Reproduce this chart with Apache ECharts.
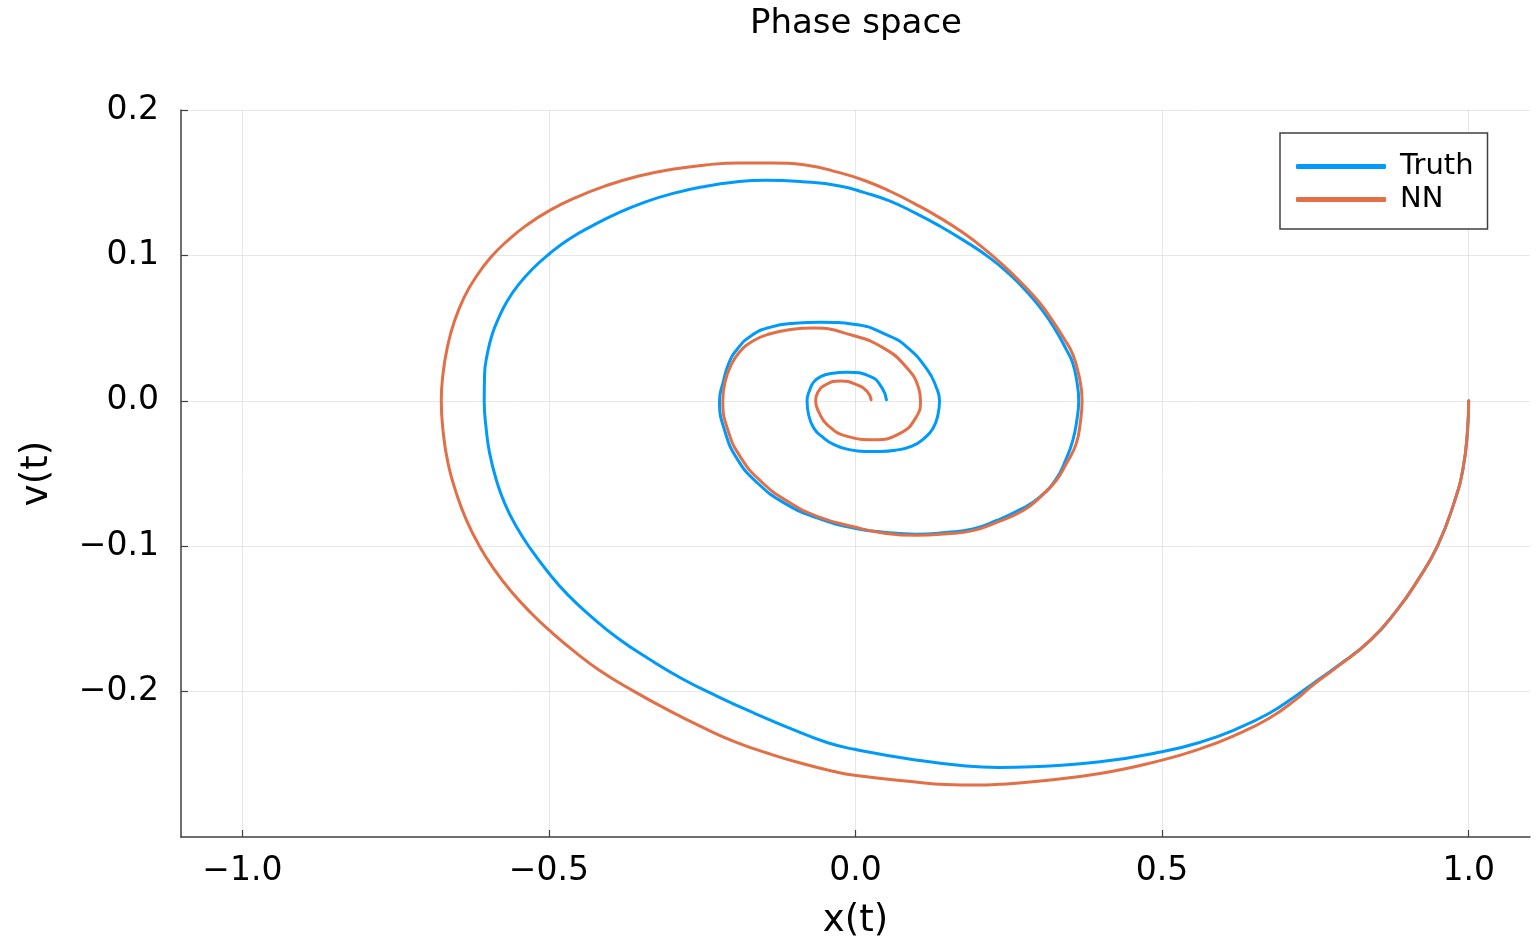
<!DOCTYPE html>
<html>
<head>
<meta charset="utf-8">
<title>Phase space</title>
<script src="https://cdn.jsdelivr.net/npm/echarts@6/dist/echarts.min.js"></script>
<style>
  html, body { margin: 0; padding: 0; background: #ffffff; }
  #chart { width: 1537px; height: 941px; }
</style>
</head>
<body>
<div id="chart"></div>
<script>
// Phase-space trajectories: position x(t) against velocity v(t)
const truthPath = [
  [1.000, 0.000], [0.998, -0.021], [0.991, -0.046], [0.977, -0.069],
  [0.949, -0.100], [0.916, -0.124], [0.883, -0.144], [0.839, -0.165],
  [0.784, -0.183], [0.746, -0.1945], [0.718, -0.203], [0.674, -0.2151],
  [0.619, -0.2261], [0.564, -0.2346], [0.500, -0.2414], [0.3987, -0.2483],
  [0.2885, -0.2517], [0.2335, -0.2522], [0.180, -0.2512], [0.098, -0.247],
  [-0.0018, -0.2397], [-0.0452, -0.2352], [-0.0996, -0.2265], [-0.1648, -0.2149],
  [-0.2245, -0.2034], [-0.2843, -0.1908], [-0.3386, -0.1771], [-0.3875, -0.1633],
  [-0.431, -0.1484], [-0.469, -0.1335], [-0.500, -0.1186], [-0.5288, -0.1025],
  [-0.5532, -0.0865], [-0.5723, -0.0704], [-0.5858, -0.0544], [-0.5967, -0.036],
  [-0.6021, -0.020], [-0.6055, 0.000], [-0.6049, 0.0183], [-0.6005, 0.0321],
  [-0.5924, 0.0458], [-0.5815, 0.0573], [-0.5679, 0.0687], [-0.5489, 0.0802],
  [-0.5272, 0.0905], [-0.500, 0.1008], [-0.4674, 0.1111], [-0.4294, 0.1203],
  [-0.3859, 0.1294], [-0.3424, 0.1368], [-0.299, 0.1425], [-0.2501, 0.1471],
  [-0.1957, 0.1505], [-0.1468, 0.1517], [-0.0871, 0.1507], [-0.026, 0.1478],
  [0.0147, 0.1432], [0.0554, 0.1375], [0.0962, 0.1294], [0.1369, 0.1203],
  [0.1777, 0.110], [0.2184, 0.0985], [0.251, 0.0871], [0.2782, 0.0756],
  [0.3053, 0.0619], [0.3271, 0.0481], [0.3434, 0.0355], [0.3542, 0.026],
  [0.3608, 0.0137], [0.364, 0.000], [0.3608, -0.0137], [0.3542, -0.0275],
  [0.3434, -0.0401], [0.3271, -0.0538], [0.2999, -0.0664], [0.270, -0.0745],
  [0.2293, -0.0825], [0.1913, -0.0882], [0.1478, -0.0905], [0.0989, -0.0917],
  [0.050, -0.0905], [-0.0018, -0.0876], [-0.0615, -0.0807], [-0.1159, -0.0704],
  [-0.1593, -0.0567], [-0.192, -0.0406], [-0.2137, -0.020], [-0.2218, 0.000],
  [-0.2155, 0.0133], [-0.207, 0.0255], [-0.193, 0.0355], [-0.170, 0.0448],
  [-0.140, 0.0505], [-0.100, 0.0533], [-0.057, 0.054], [0.000, 0.0525],
  [0.050, 0.0455], [0.0826, 0.0375], [0.117, 0.0215], [0.131, 0.010],
  [0.137, 0.000], [0.1345, -0.0095], [0.1265, -0.0188], [0.112, -0.0258],
  [0.092, -0.0312], [0.065, -0.034], [0.0407, -0.0348], [0.015, -0.0348],
  [-0.012, -0.0334], [-0.035, -0.0302], [-0.055, -0.0245], [-0.068, -0.0188],
  [-0.0765, -0.0096], [-0.079, 0.000], [-0.0745, 0.0076], [-0.068, 0.013],
  [-0.056, 0.0168], [-0.040, 0.0188], [-0.0136, 0.0197], [0.0245, 0.0167],
  [0.0435, 0.0087], [0.0505, 0.0007]
];

const nnPath = [
  [1.000, 0.000], [0.998, -0.021], [0.991, -0.046], [0.977, -0.069],
  [0.949, -0.100], [0.916, -0.124], [0.883, -0.144], [0.839, -0.165],
  [0.784, -0.1835], [0.746, -0.1955], [0.718, -0.2055], [0.674, -0.2185],
  [0.619, -0.230], [0.564, -0.2391], [0.500, -0.2471], [0.3987, -0.2563],
  [0.2885, -0.262], [0.2335, -0.2638], [0.196, -0.2643], [0.147, -0.2639],
  [0.098, -0.2622], [-0.0018, -0.2575], [-0.0344, -0.255], [-0.0887, -0.2493],
  [-0.143, -0.2424], [-0.1974, -0.2344], [-0.2517, -0.2241], [-0.306, -0.2126],
  [-0.3604, -0.200], [-0.4147, -0.1862], [-0.4582, -0.1725], [-0.500, -0.1576],
  [-0.5288, -0.1461], [-0.5614, -0.1312], [-0.5886, -0.1163], [-0.613, -0.1002],
  [-0.6347, -0.0819], [-0.651, -0.0635], [-0.6646, -0.0429], [-0.6728, -0.020],
  [-0.6755, 0.000], [-0.6728, 0.0183], [-0.6657, 0.0367], [-0.6548, 0.0538],
  [-0.6385, 0.071], [-0.6195, 0.0848], [-0.5951, 0.0985], [-0.5679, 0.110],
  [-0.538, 0.1203], [-0.500, 0.1306], [-0.4565, 0.1397], [-0.4076, 0.1478],
  [-0.3533, 0.1546], [-0.299, 0.1592], [-0.2446, 0.1622], [-0.1903, 0.1636],
  [-0.136, 0.1636], [-0.0817, 0.1622], [-0.026, 0.1569], [0.0147, 0.1515],
  [0.0554, 0.1443], [0.0962, 0.1356], [0.1369, 0.126], [0.175, 0.1157],
  [0.2075, 0.1054], [0.2402, 0.0935], [0.2727, 0.0802], [0.2999, 0.0676],
  [0.3216, 0.055], [0.3407, 0.0424], [0.3542, 0.0321], [0.364, 0.0183],
  [0.3695, 0.000], [0.367, -0.0137], [0.3597, -0.0298], [0.3434, -0.0435],
  [0.327, -0.055], [0.2999, -0.0667], [0.2727, -0.0756], [0.2293, -0.0838],
  [0.1913, -0.0893], [0.1478, -0.0915], [0.0989, -0.0925], [0.050, -0.0912],
  [-0.0018, -0.0868], [-0.0615, -0.0796], [-0.1104, -0.0693], [-0.1539, -0.0555],
  [-0.1865, -0.0394], [-0.2082, -0.020], [-0.2164, 0.000], [-0.2125, 0.0133],
  [-0.203, 0.0245], [-0.189, 0.0335], [-0.168, 0.041], [-0.144, 0.0455],
  [-0.106, 0.049], [-0.068, 0.050], [-0.008, 0.0454], [0.046, 0.0362],
  [0.084, 0.0225], [0.103, 0.0087], [0.106, 0.000], [0.098, -0.0119],
  [0.0733, -0.0222], [0.030, -0.0268], [-0.0136, -0.0245], [-0.046, -0.0165],
  [-0.0595, -0.008], [-0.065, 0.000], [-0.0615, 0.0058], [-0.049, 0.011],
  [-0.0245, 0.0137], [0.0027, 0.011], [0.019, 0.0064], [0.0255, 0.0007]
];

const seriesNames = ['Truth', 'NN'];
const xTicks = [-1.0, -0.5, 0.0, 0.5, 1.0];
const vTicks = [-0.2, -0.1, 0.0, 0.1, 0.2];

const FONT = 'DejaVu Sans';
const AXIS_COLOR = '#404040';
const GRID_COLOR = 'rgba(0,0,0,0.09)';

// one decimal, typographic minus sign
const fmt = v => {
  const s = Math.abs(v).toFixed(1);
  return (v < -1e-9 ? '\u2212' : '') + s;
};

const chart = echarts.init(document.getElementById('chart'), null, { renderer: 'canvas' });

chart.setOption({
  animation: false,
  backgroundColor: '#ffffff',
  title: {
    text: 'Phase space',
    left: 851,
    textAlign: 'center',
    top: 2,
    textStyle: { fontFamily: FONT, fontSize: 34, fontWeight: 'normal', color: '#000000' }
  },
  legend: {
    data: seriesNames,
    orient: 'vertical',
    left: 1280,
    top: 133,
    padding: [17, 14, 13, 16],
    itemGap: 0,
    itemWidth: 90,
    itemHeight: 5,
    icon: 'roundRect',
    backgroundColor: '#ffffff',
    borderColor: '#404040',
    borderWidth: 1.5,
    borderRadius: 0,
    textStyle: {
      fontFamily: FONT, fontSize: 29, color: '#000000',
      lineHeight: 33, padding: [0, 0, 0, 9]
    }
  },
  grid: {
    left: 181, right: 7, top: 110, bottom: 104,
    containLabel: false,
    outerBoundsMode: 'none'
  },
  xAxis: {
    type: 'value',
    min: -1.1,
    max: 1.1,
    name: 'x(t)',
    nameLocation: 'middle',
    nameGap: 66,
    nameTextStyle: { fontFamily: FONT, fontSize: 37, color: '#000000' },
    axisLine: { show: true, onZero: false, lineStyle: { color: AXIS_COLOR, width: 1.5 } },
    axisTick: { show: true, inside: true, length: 7, customValues: xTicks,
      lineStyle: { color: AXIS_COLOR, width: 1.2 } },
    axisLabel: { customValues: xTicks, formatter: fmt, margin: 18,
      fontFamily: FONT, fontSize: 33, color: '#000000' },
    splitLine: { show: true, lineStyle: { color: GRID_COLOR, width: 1 } }
  },
  yAxis: {
    type: 'value',
    min: -0.3,
    max: 0.2,
    name: 'v(t)',
    nameLocation: 'middle',
    nameGap: 125,
    nameTextStyle: { fontFamily: FONT, fontSize: 37, color: '#000000' },
    axisLine: { show: true, onZero: false, lineStyle: { color: AXIS_COLOR, width: 1.5 } },
    axisTick: { show: true, inside: true, length: 7, customValues: vTicks,
      lineStyle: { color: AXIS_COLOR, width: 1.2 } },
    axisLabel: { customValues: vTicks, formatter: fmt, margin: 22,
      fontFamily: FONT, fontSize: 33, color: '#000000' },
    splitLine: { show: true, lineStyle: { color: GRID_COLOR, width: 1 } }
  },
  series: [
    {
      name: seriesNames[0],
      type: 'line',
      data: truthPath,
      smooth: 0.5,
      showSymbol: false,
      symbol: 'none',
      color: '#009AFA',
      lineStyle: { width: 3, color: '#009AFA', cap: 'round', join: 'round' },
      z: 2
    },
    {
      name: seriesNames[1],
      type: 'line',
      data: nnPath,
      smooth: 0.5,
      showSymbol: false,
      symbol: 'none',
      color: '#E36F47',
      lineStyle: { width: 3, color: '#E36F47', cap: 'round', join: 'round' },
      z: 3
    }
  ]
});
</script>
</body>
</html>
